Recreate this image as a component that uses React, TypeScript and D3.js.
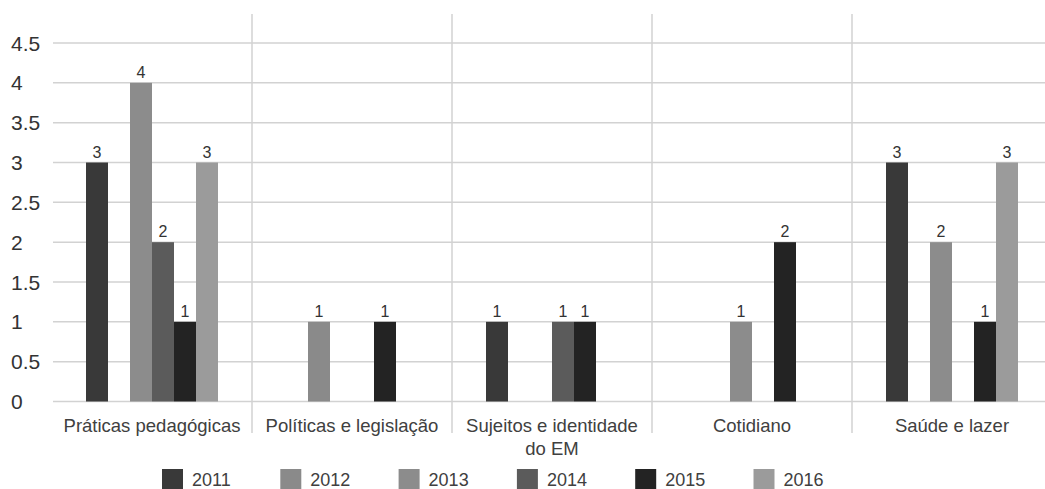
import React from "react";
import * as d3 from "d3";

const categories = [
  "Práticas pedagógicas",
  "Políticas e legislação",
  "Sujeitos e identidade do EM",
  "Cotidiano",
  "Saúde e lazer",
];
const years = ["2011", "2012", "2013", "2014", "2015", "2016"];

// Counts per year, one value per category (0 = no bar)
const v2011 = [3, 0, 1, 0, 3];
const v2012 = [0, 1, 0, 0, 0];
const v2013 = [4, 0, 0, 1, 2];
const v2014 = [2, 0, 1, 0, 0];
const v2015 = [1, 1, 1, 2, 1];
const v2016 = [3, 0, 0, 0, 3];
const seriesValues = [v2011, v2012, v2013, v2014, v2015, v2016];

const yTicks = [0, 0.5, 1, 1.5, 2, 2.5, 3, 3.5, 4, 4.5];

const colors = ["#393939", "#8a8a8a", "#8c8c8c", "#5b5b5b", "#232323", "#9b9b9b"];

const W = 1045;
const H = 489;
const FONT = "'Liberation Sans', Arial, sans-serif";

function wrap(label: string, maxChars: number): string[] {
  const words = label.split(" ");
  const lines: string[] = [];
  let cur = "";
  for (const w of words) {
    const next = cur ? cur + " " + w : w;
    if (next.length > maxChars && cur) {
      lines.push(cur);
      cur = w;
    } else cur = next;
  }
  if (cur) lines.push(cur);
  return lines;
}

export default function App() {
  const x = d3.scaleBand<string>().domain(categories).range([52, 1052]).padding(0);
  const groupWidth = 132;
  const xInner = d3.scaleBand<string>().domain(years).range([0, groupWidth]).padding(0);
  const groupOffset = (x.bandwidth() - groupWidth) / 2;
  const y = d3.scaleLinear().domain([0, 4.5]).range([401.5, 43]);

  const plotLeft = 53;
  const plotRight = W;
  const sepTop = 14;
  const sepBottom = 433;

  return (
    <svg
      width={W}
      height={H}
      style={{ position: "absolute", left: 0, top: 0, background: "#fff" }}
      fontFamily={FONT}
    >
      <rect x={0} y={0} width={W} height={H} fill="#fff" />
      {/* horizontal gridlines */}
      {yTicks.map((t) => (
        <line
          key={"g" + t}
          x1={plotLeft}
          x2={plotRight}
          y1={y(t)}
          y2={y(t)}
          stroke="#d2d2d2"
          strokeWidth={1.5}
        />
      ))}
      {/* category separators */}
      {categories.slice(1).map((c) => (
        <line
          key={"s" + c}
          x1={x(c)!}
          x2={x(c)!}
          y1={sepTop}
          y2={sepBottom}
          stroke="#d2d2d2"
          strokeWidth={1.5}
        />
      ))}
      {/* y tick labels */}
      {yTicks.map((t) => (
        <text
          key={"t" + t}
          x={11}
          y={y(t)}
          dy="0.36em"
          fontSize={21}
          fill="#333"
        >
          {String(t)}
        </text>
      ))}
      {/* bars and value labels */}
      {categories.map((c, ci) =>
        years.map((yr, si) => {
          const v = seriesValues[si][ci];
          if (!v) return null;
          const bx = x(c)! + groupOffset + xInner(yr)!;
          const bw = xInner.bandwidth();
          return (
            <g key={c + yr}>
              <rect x={bx} y={y(v)} width={bw} height={y(0) - y(v)} fill={colors[si]} />
              <text
                x={bx + bw / 2}
                y={y(v) - 5}
                textAnchor="middle"
                fontSize={16}
                fill="#333"
              >
                {v}
              </text>
            </g>
          );
        })
      )}
      {/* category labels */}
      {categories.map((c) => (
        <text
          key={"c" + c}
          x={x(c)! + x.bandwidth() / 2}
          y={432}
          textAnchor="middle"
          fontSize={18.5}
          fill="#404040"
        >
          {wrap(c, 22).map((line, i) => (
            <tspan key={i} x={x(c)! + x.bandwidth() / 2} dy={i === 0 ? 0 : 23}>
              {line}
            </tspan>
          ))}
        </text>
      ))}
      {/* legend */}
      {years.map((yr, i) => {
        const lx = 162 + i * 118.3;
        return (
          <g key={"l" + yr}>
            <rect x={lx} y={469} width={21} height={20} fill={colors[i]} />
            <text x={lx + 30} y={486} fontSize={18} fill="#404040">
              {yr}
            </text>
          </g>
        );
      })}
    </svg>
  );
}
